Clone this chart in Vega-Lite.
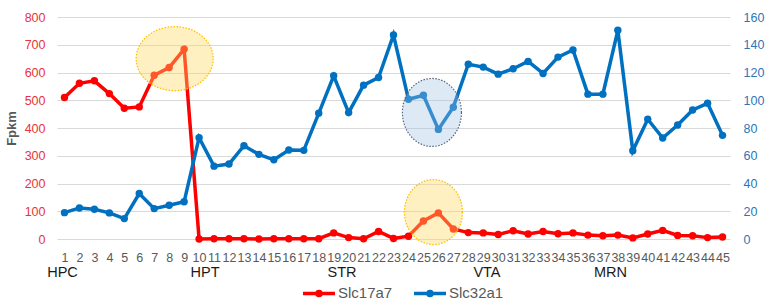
{
  "$schema": "https://vega.github.io/schema/vega-lite/v6.json",
  "autosize": {"type": "none"},
  "padding": {"left": 57, "top": 17, "right": 38, "bottom": 67},
  "width": 673,
  "height": 222,
  "config": {
    "font": "Liberation Sans",
    "view": {"stroke": null},
    "axis": {"domain": false, "ticks": false},
    "axisX": {"labelOverlap": false, "labelFlush": false, "labelBound": false}
  },
  "datasets": {
    "slc17a7": [
      {"n": 1, "gene": "Slc17a7", "fpkm": 510}, {"n": 2, "gene": "Slc17a7", "fpkm": 561}, {"n": 3, "gene": "Slc17a7", "fpkm": 570},
      {"n": 4, "gene": "Slc17a7", "fpkm": 524}, {"n": 5, "gene": "Slc17a7", "fpkm": 471}, {"n": 6, "gene": "Slc17a7", "fpkm": 476},
      {"n": 7, "gene": "Slc17a7", "fpkm": 590}, {"n": 8, "gene": "Slc17a7", "fpkm": 618}, {"n": 9, "gene": "Slc17a7", "fpkm": 684},
      {"n": 10, "gene": "Slc17a7", "fpkm": 0}, {"n": 11, "gene": "Slc17a7", "fpkm": 1}, {"n": 12, "gene": "Slc17a7", "fpkm": 1},
      {"n": 13, "gene": "Slc17a7", "fpkm": 1}, {"n": 14, "gene": "Slc17a7", "fpkm": 0}, {"n": 15, "gene": "Slc17a7", "fpkm": 1},
      {"n": 16, "gene": "Slc17a7", "fpkm": 1}, {"n": 17, "gene": "Slc17a7", "fpkm": 1}, {"n": 18, "gene": "Slc17a7", "fpkm": 1},
      {"n": 19, "gene": "Slc17a7", "fpkm": 22}, {"n": 20, "gene": "Slc17a7", "fpkm": 5}, {"n": 21, "gene": "Slc17a7", "fpkm": 1},
      {"n": 22, "gene": "Slc17a7", "fpkm": 27}, {"n": 23, "gene": "Slc17a7", "fpkm": 2}, {"n": 24, "gene": "Slc17a7", "fpkm": 10},
      {"n": 25, "gene": "Slc17a7", "fpkm": 65}, {"n": 26, "gene": "Slc17a7", "fpkm": 94}, {"n": 27, "gene": "Slc17a7", "fpkm": 36},
      {"n": 28, "gene": "Slc17a7", "fpkm": 23}, {"n": 29, "gene": "Slc17a7", "fpkm": 22}, {"n": 30, "gene": "Slc17a7", "fpkm": 16},
      {"n": 31, "gene": "Slc17a7", "fpkm": 30}, {"n": 32, "gene": "Slc17a7", "fpkm": 18}, {"n": 33, "gene": "Slc17a7", "fpkm": 27},
      {"n": 34, "gene": "Slc17a7", "fpkm": 19}, {"n": 35, "gene": "Slc17a7", "fpkm": 22}, {"n": 36, "gene": "Slc17a7", "fpkm": 14},
      {"n": 37, "gene": "Slc17a7", "fpkm": 12}, {"n": 38, "gene": "Slc17a7", "fpkm": 14}, {"n": 39, "gene": "Slc17a7", "fpkm": 4},
      {"n": 40, "gene": "Slc17a7", "fpkm": 18}, {"n": 41, "gene": "Slc17a7", "fpkm": 31}, {"n": 42, "gene": "Slc17a7", "fpkm": 13},
      {"n": 43, "gene": "Slc17a7", "fpkm": 12}, {"n": 44, "gene": "Slc17a7", "fpkm": 5}, {"n": 45, "gene": "Slc17a7", "fpkm": 7}
    ],
    "slc32a1": [
      {"n": 1, "gene": "Slc32a1", "fpkm": 19.0}, {"n": 2, "gene": "Slc32a1", "fpkm": 22.4}, {"n": 3, "gene": "Slc32a1", "fpkm": 21.4},
      {"n": 4, "gene": "Slc32a1", "fpkm": 18.8}, {"n": 5, "gene": "Slc32a1", "fpkm": 14.7}, {"n": 6, "gene": "Slc32a1", "fpkm": 32.8},
      {"n": 7, "gene": "Slc32a1", "fpkm": 21.9}, {"n": 8, "gene": "Slc32a1", "fpkm": 24.3}, {"n": 9, "gene": "Slc32a1", "fpkm": 26.8},
      {"n": 10, "gene": "Slc32a1", "fpkm": 73.0}, {"n": 11, "gene": "Slc32a1", "fpkm": 52.5}, {"n": 12, "gene": "Slc32a1", "fpkm": 54.0},
      {"n": 13, "gene": "Slc32a1", "fpkm": 67.2}, {"n": 14, "gene": "Slc32a1", "fpkm": 61.0}, {"n": 15, "gene": "Slc32a1", "fpkm": 57.1},
      {"n": 16, "gene": "Slc32a1", "fpkm": 64.1}, {"n": 17, "gene": "Slc32a1", "fpkm": 63.9}, {"n": 18, "gene": "Slc32a1", "fpkm": 90.6},
      {"n": 19, "gene": "Slc32a1", "fpkm": 117.6}, {"n": 20, "gene": "Slc32a1", "fpkm": 91.1}, {"n": 21, "gene": "Slc32a1", "fpkm": 110.9},
      {"n": 22, "gene": "Slc32a1", "fpkm": 116.4}, {"n": 23, "gene": "Slc32a1", "fpkm": 147.0}, {"n": 24, "gene": "Slc32a1", "fpkm": 100.7},
      {"n": 25, "gene": "Slc32a1", "fpkm": 103.6}, {"n": 26, "gene": "Slc32a1", "fpkm": 79.0}, {"n": 27, "gene": "Slc32a1", "fpkm": 95.0},
      {"n": 28, "gene": "Slc32a1", "fpkm": 126.0}, {"n": 29, "gene": "Slc32a1", "fpkm": 123.9}, {"n": 30, "gene": "Slc32a1", "fpkm": 118.8},
      {"n": 31, "gene": "Slc32a1", "fpkm": 122.7}, {"n": 32, "gene": "Slc32a1", "fpkm": 128.0}, {"n": 33, "gene": "Slc32a1", "fpkm": 119.3},
      {"n": 34, "gene": "Slc32a1", "fpkm": 131.1}, {"n": 35, "gene": "Slc32a1", "fpkm": 136.2}, {"n": 36, "gene": "Slc32a1", "fpkm": 104.4},
      {"n": 37, "gene": "Slc32a1", "fpkm": 104.4}, {"n": 38, "gene": "Slc32a1", "fpkm": 150.4}, {"n": 39, "gene": "Slc32a1", "fpkm": 63.6},
      {"n": 40, "gene": "Slc32a1", "fpkm": 86.3}, {"n": 41, "gene": "Slc32a1", "fpkm": 72.8}, {"n": 42, "gene": "Slc32a1", "fpkm": 82.2},
      {"n": 43, "gene": "Slc32a1", "fpkm": 93.0}, {"n": 44, "gene": "Slc32a1", "fpkm": 97.8}, {"n": 45, "gene": "Slc32a1", "fpkm": 74.7}
    ],
    "regions": [
      {"region": "HPC", "n": 0.87},
      {"region": "HPT", "n": 10.4},
      {"region": "STR", "n": 19.56},
      {"region": "VTA", "n": 29.25},
      {"region": "MRN", "n": 37.51}
    ]
  },
  "layer": [
    {
      "data": {"name": "slc17a7"},
      "mark": {"type": "line", "strokeWidth": 3.5, "point": {"filled": true, "size": 55}},
      "encoding": {
        "x": {
          "field": "n", "type": "quantitative",
          "scale": {"domain": [0.5, 45.5], "nice": false, "zero": false},
          "axis": {
            "title": null, "grid": false, "format": "d", "tickCount": 100,
            "values": [1,2,3,4,5,6,7,8,9,10,11,12,13,14,15,16,17,18,19,20,21,22,23,24,25,26,27,28,29,30,31,32,33,34,35,36,37,38,39,40,41,42,43,44,45],
            "labelOverlap": false, "labelFlush": false, "labelBound": false,
            "labelFontSize": 12.5, "labelColor": "#595959", "labelPadding": 12
          }
        },
        "y": {
          "field": "fpkm", "type": "quantitative",
          "scale": {"domain": [0, 800], "nice": false},
          "axis": {
            "title": "Fpkm", "titleFontSize": 13, "titleFontWeight": "bold", "titleColor": "#595959",
            "titlePadding": 6,
            "values": [0, 100, 200, 300, 400, 500, 600, 700, 800],
            "grid": true, "gridColor": "#d9d9d9", "gridWidth": 1,
            "labelFontSize": 12.5, "labelColor": "#e8343a", "labelPadding": 12
          }
        },
        "color": {
          "field": "gene", "type": "nominal",
          "scale": {"domain": ["Slc17a7", "Slc32a1"], "range": ["#ff0000", "#0070c0"]},
          "legend": {
            "title": null, "orient": "none", "direction": "horizontal",
            "legendX": 244, "legendY": 258, "padding": 0,
            "symbolType": "M-1,0L1,0M0.13,0C0.13,0.072 0.072,0.13 0,0.13C-0.072,0.13 -0.13,0.072 -0.13,0C-0.13,-0.072 -0.072,-0.13 0,-0.13C0.072,-0.13 0.13,-0.072 0.13,0Z",
            "symbolSize": 1024, "symbolStrokeWidth": 3.5,
            "labelFontSize": 15, "labelColor": "#595959", "labelOffset": 1, "columnPadding": 14
          }
        }
      }
    },
    {
      "data": {"name": "slc32a1"},
      "mark": {"type": "line", "strokeWidth": 3.5, "point": {"filled": true, "size": 55}},
      "encoding": {
        "x": {"field": "n", "type": "quantitative"},
        "y": {
          "field": "fpkm", "type": "quantitative",
          "scale": {"domain": [0, 160], "nice": false},
          "axis": {
            "orient": "right", "title": null, "grid": false,
            "values": [0, 20, 40, 60, 80, 100, 120, 140, 160],
            "labelFontSize": 12.5, "labelColor": "#2e75b6", "labelPadding": 13
          }
        },
        "color": {"field": "gene", "type": "nominal"}
      }
    },
    {
      "layer": [
        {
          "data": {"values": [{"n": 8.37, "v": 650}]},
          "mark": {
            "type": "point", "filled": false,
            "shape": "M1,0C1,0.459 0.552,0.831 0,0.831C-0.552,0.831 -1,0.459 -1,0C-1,-0.459 -0.552,-0.831 0,-0.831C0.552,-0.831 1,-0.459 1,0Z",
            "size": 5929, "fill": "#ffd966", "fillOpacity": 0.4, "stroke": "#ffc000", "strokeWidth": 1.3, "strokeDash": [1.5, 1.5], "opacity": 1
          },
          "encoding": {
            "x": {"field": "n", "type": "quantitative"},
            "y": {"field": "v", "type": "quantitative", "scale": {"domain": [0, 800], "nice": false}, "axis": null}
          }
        },
        {
          "data": {"values": [{"n": 25.57, "v": 456}]},
          "mark": {
            "type": "point", "filled": false,
            "shape": "M0.868,0C0.868,0.552 0.479,1 0,1C-0.479,1 -0.868,0.552 -0.868,0C-0.868,-0.552 -0.479,-1 0,-1C0.479,-1 0.868,-0.552 0.868,0Z",
            "size": 4624, "fill": "#9dc3e6", "fillOpacity": 0.35, "stroke": "#55657a", "strokeWidth": 1.2, "strokeDash": [1.5, 1.5], "opacity": 1
          },
          "encoding": {
            "x": {"field": "n", "type": "quantitative"},
            "y": {"field": "v", "type": "quantitative"}
          }
        },
        {
          "data": {"values": [{"n": 25.67, "v": 97}]},
          "mark": {
            "type": "point", "filled": false,
            "shape": "M0.892,0C0.892,0.552 0.493,1 0,1C-0.493,1 -0.892,0.552 -0.892,0C-0.892,-0.552 -0.493,-1 0,-1C0.493,-1 0.892,-0.552 0.892,0Z",
            "size": 4225, "fill": "#ffd966", "fillOpacity": 0.4, "stroke": "#ffc000", "strokeWidth": 1.3, "strokeDash": [1.5, 1.5], "opacity": 1
          },
          "encoding": {
            "x": {"field": "n", "type": "quantitative"},
            "y": {"field": "v", "type": "quantitative"}
          }
        },
        {
          "data": {"name": "regions"},
          "mark": {"type": "text", "fontSize": 14.5, "color": "#1a1a1a", "baseline": "middle", "align": "center"},
          "encoding": {
            "x": {"field": "n", "type": "quantitative"},
            "y": {"datum": -121},
            "text": {"field": "region"}
          }
        }
      ]
    }
  ],
  "resolve": {"scale": {"y": "independent"}}
}
